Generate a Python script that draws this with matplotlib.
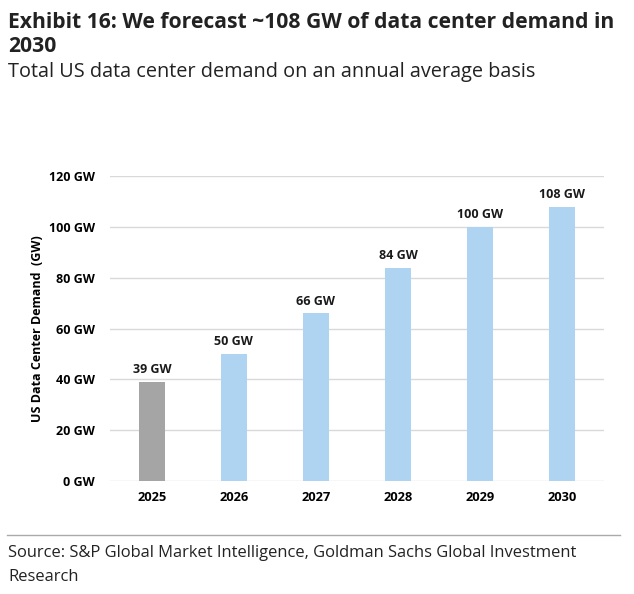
import matplotlib.pyplot as plt
from matplotlib.lines import Line2D

years = ["2025", "2026", "2027", "2028", "2029", "2030"]
demand_gw = [39, 50, 66, 84, 100, 108]
bar_colors = ["#A5A5A5", "#AED4F1", "#AED4F1", "#AED4F1", "#AED4F1", "#AED4F1"]
y_ticks = [0, 20, 40, 60, 80, 100, 120]

plt.rcParams["font.family"] = ["Open Sans", "DejaVu Sans"]

fig = plt.figure(figsize=(6.34, 5.94), dpi=100)
W, H = 634, 594

# plot area in pixel coords: left 110, right 604, bottom 481, top ~176 (y=120)
ax = fig.add_axes([110 / W, 1 - 481 / H, (604 - 110) / W, (481 - 176) / H])
x = range(len(years))
ax.bar(x, demand_gw, width=0.32, color=bar_colors, zorder=3)
for xi, v in zip(x, demand_gw):
    ax.text(xi, v + 2.2, f"{v} GW", ha="center", va="bottom",
            fontsize=9, fontweight="bold", color="#1a1a1a")

ax.set_xlim(-0.51, len(years) - 0.49)
ax.set_ylim(0, 120)
ax.set_yticks(y_ticks)
ax.set_yticklabels([f"{t} GW" for t in y_ticks], fontsize=9, fontweight="bold")
ax.set_xticks(list(x))
ax.set_xticklabels(years, fontsize=9.3, fontweight="bold")
ax.tick_params(length=0, pad=11)
ax.tick_params(axis="x", pad=7)
ax.grid(axis="y", color="#D9D9D9", linewidth=1, zorder=0)
for s in ax.spines.values():
    s.set_visible(False)
ax.set_ylabel("US Data Center Demand  (GW)", fontsize=9, fontweight="bold", labelpad=3)

fig.text(8 / W, 1 - 22 / H, "Exhibit 16: We forecast ~108 GW of data center demand in",
         fontsize=15.2, fontweight="bold", color="#222222", va="center")
fig.text(8 / W, 1 - 46 / H, "2030", fontsize=15.2, fontweight="bold",
         color="#222222", va="center")
fig.text(8 / W, 1 - 72 / H, "Total US data center demand on an annual average basis",
         fontsize=14.3, color="#222222", va="center")

fig.add_artist(Line2D([7 / W, 620 / W], [1 - 535 / H, 1 - 535 / H],
                      color="#AAAAAA", linewidth=1))
fig.text(8 / W, 1 - 553 / H,
         "Source: S&P Global Market Intelligence, Goldman Sachs Global Investment",
         fontsize=11.9, color="#222222", va="center")
fig.text(8 / W, 1 - 577 / H, "Research", fontsize=11.9, color="#222222", va="center")

fig.savefig("out.png", dpi=100)
